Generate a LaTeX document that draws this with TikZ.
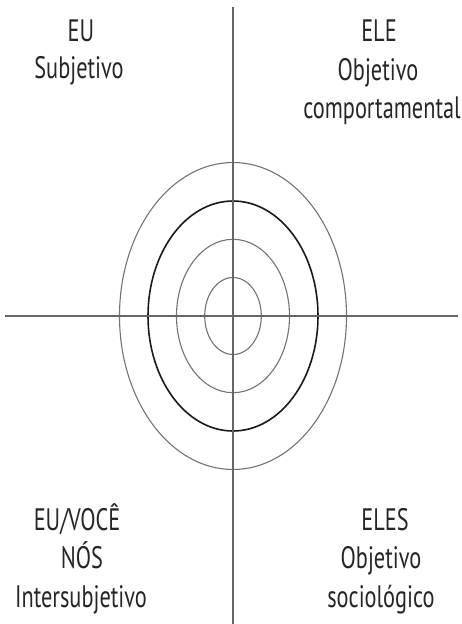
\documentclass[tikz,border=0pt]{standalone}
\usepackage{fontspec}
\setmainfont{PT Sans}[FakeStretch=0.72]
\begin{document}
\begin{tikzpicture}[x=1pt,y=-1pt,
  lbl/.style={anchor=base,inner sep=0pt,font=\fontsize{31}{38}\selectfont,text=black!85},
  axis/.style={draw=black!60,line width=1.6pt},
  ring/.style={draw=black!55,line width=1.1pt},
  mainring/.style={draw=black!90,line width=1.6pt}]
\useasboundingbox (0,0) rectangle (461,624);
\coordinate (c) at (233,316);
\coordinate (hl) at (5,316);
\coordinate (hr) at (458,316);
\coordinate (vt) at (233,7);
\coordinate (vb) at (233,624);
\draw[ring] (c) ellipse [x radius=28.3, y radius=38.5];
\draw[ring] (c) ellipse [x radius=56.5, y radius=76.7];
\draw[mainring] (c) ellipse [x radius=85, y radius=115];
\draw[ring] (c) ellipse [x radius=113.5, y radius=153.5];
\draw[axis] (hl) -- (hr);
\draw[axis] (vt) -- (vb);
\node[lbl] (eu) at (81,41.7) {EU};
\node[lbl] (subj) at (79,78.5) {Subjetivo};
\node[lbl] (ele) at (379,41.7) {ELE};
\node[lbl] (obj1) at (378,80) {Objetivo};
\node[lbl] (comp) at (382,118) {comportamental};
\node[lbl] (euvoce) at (77,530) {EU/VOCÊ};
\node[lbl] (nos) at (82,568) {NÓS};
\node[lbl] (inter) at (81,607) {Intersubjetivo};
\node[lbl] (eles) at (385,530) {ELES};
\node[lbl] (obj2) at (381,568) {Objetivo};
\node[lbl] (socio) at (381,607) {sociológico};
\end{tikzpicture}
\end{document}
